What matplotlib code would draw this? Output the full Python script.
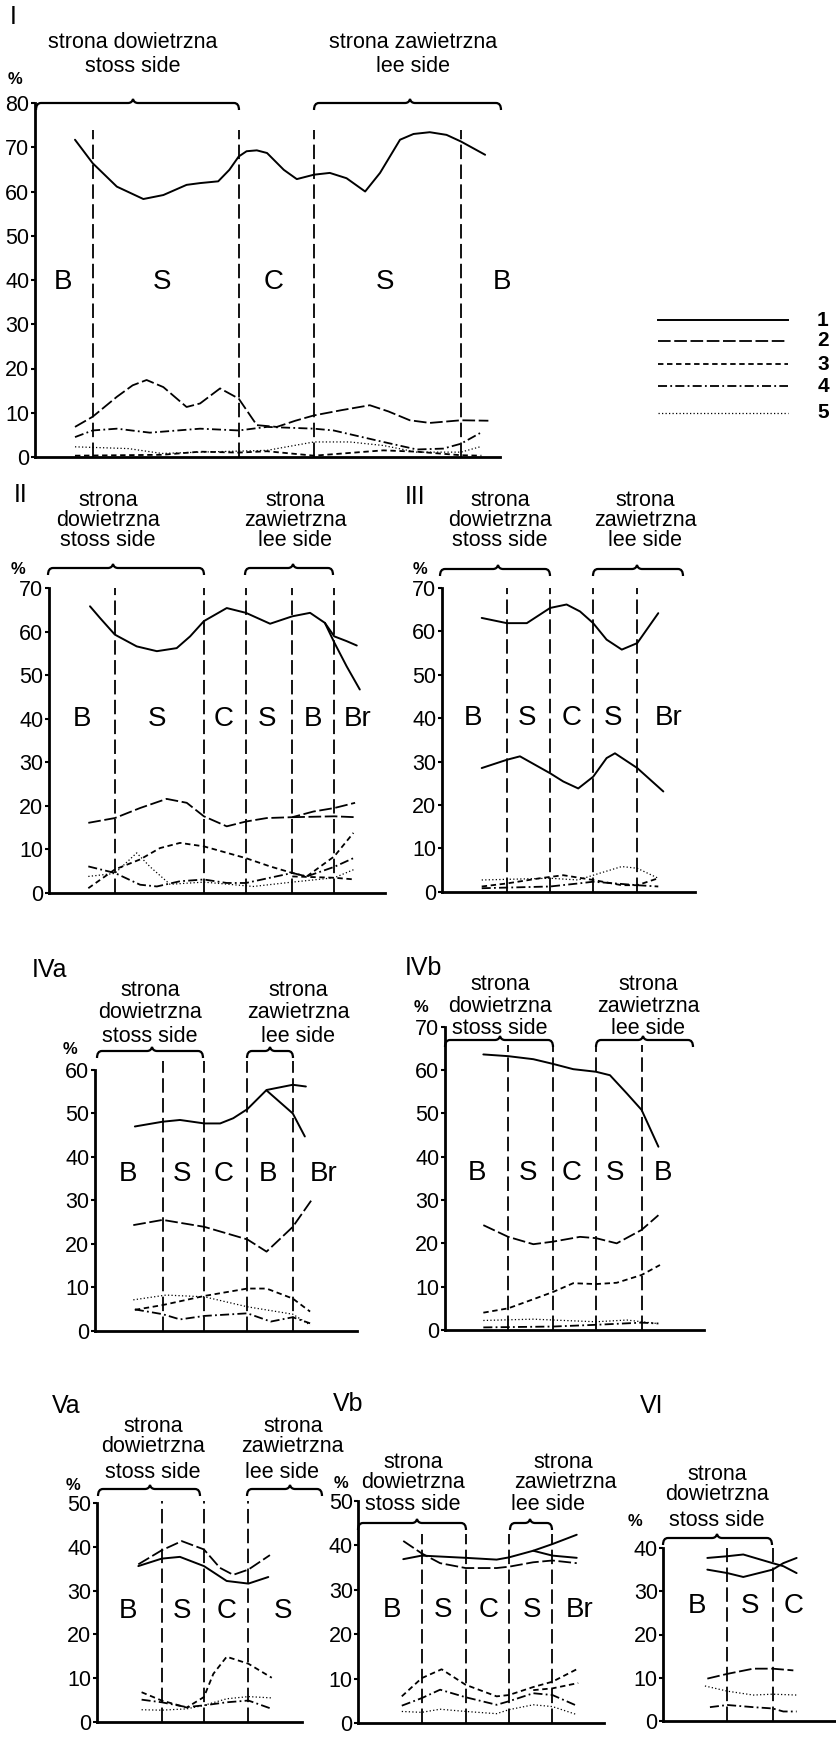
import matplotlib
matplotlib.use('Agg')
import matplotlib.pyplot as plt
from matplotlib import font_manager
from matplotlib.path import Path
from matplotlib.patches import PathPatch

W, H = 836, 1737

# ---- data (x = relative distance along the profile, 0-100; y = %) ----
# Panel I
p1_zones = [12.4, 43.8, 60.0, 91.6]
p1_labels = ['B', 'S', 'C', 'S', 'B']
p1_label_x = [6.0, 27.3, 51.3, 75.3, 100.4]
p1_s1_x = [8.6, 12.4, 17.6, 23.3, 27.6, 32.6, 35.5, 39.4, 41.8, 43.8, 45.5, 47.7, 49.9,
           53.5, 56.3, 60, 63.4, 67, 71, 74.2, 78.5, 81.4, 84.9, 88.5, 91.6, 96.8]
p1_s1_y = [71.7, 66.4, 61.1, 58.3, 59.2, 61.5, 61.9, 62.3, 64.9, 67.9, 69.1, 69.3, 68.7,
           64.9, 62.8, 63.8, 64.2, 63, 60, 64.2, 71.7, 73, 73.4, 72.8, 71.3, 68.3]
p1_s2_x = [8.6, 12.4, 17.6, 21, 24, 27.6, 32.6, 35.5, 39.8, 43.8, 47.7, 52, 56, 60, 66,
           72, 76, 80.6, 84.9, 91.6, 97.5]
p1_s2_y = [6.8, 9.1, 13.6, 16.2, 17.4, 15.8, 11.3, 12.1, 15.5, 13.2, 7.2, 6.8, 8.2, 9.4,
           10.6, 11.7, 10.3, 8.3, 7.7, 8.3, 8.2]
p1_s3_x = [8.6, 27.3, 35.5, 43.8, 49.9, 60, 74.9, 82.1, 91.6, 96]
p1_s3_y = [0.3, 0.5, 1.2, 1.0, 1.3, 0.3, 1.5, 1.2, 0.4, 0.3]
p1_s4_x = [8.6, 12.4, 17.6, 24.7, 35.5, 43.8, 49.9, 60, 64.2, 74.9, 82.1, 87.8, 91.6, 95.7]
p1_s4_y = [4.5, 6.0, 6.4, 5.5, 6.4, 6.0, 6.8, 6.4, 6.0, 3.4, 1.7, 1.9, 3.0, 5.4]
p1_s5_x = [8.6, 20.1, 27.3, 35.5, 49.9, 60, 67.7, 74.9, 82.1, 91.6, 95.7]
p1_s5_y = [2.3, 1.9, 0.8, 1.1, 1.5, 3.4, 3.4, 2.6, 1.1, 1.1, 2.3]

# Panel II
p2_zones = [19.6, 46.1, 58.6, 72.4, 84.9]
p2_labels = ['B', 'S', 'C', 'S', 'B', 'Br']
p2_label_x = [9.8, 32.1, 51.9, 64.9, 78.6, 92.0]
p2_s1_x = [12.2, 15.2, 19.6, 26.1, 32.1, 38, 42, 46.1, 52.9, 58.6, 65.8, 72.4, 77.7,
           82.1, 84.9, 88.6, 91.6]
p2_s1_y = [65.8, 63.1, 59.3, 56.6, 55.5, 56.2, 58.9, 62.4, 65.4, 64.3, 61.8, 63.5, 64.3,
           62, 58.9, 57.8, 56.8]
p2_s1b_x = [82.1, 84.9, 88.6, 92.5]
p2_s1b_y = [62, 57.5, 52, 46.7]
p2_s2_x = [11.7, 19.6, 27.1, 35, 41, 46.1, 52.9, 58.6, 64.8, 72.4, 78.7, 84.9, 91.1]
p2_s2_y = [16.1, 17.2, 19.5, 21.6, 20.7, 17.6, 15.3, 16.4, 17.2, 17.4, 18.7, 19.5, 20.7]
p2_s2b_x = [72.4, 84.9, 91.1]
p2_s2b_y = [17.4, 17.6, 17.4]
p2_s3_x = [11.7, 19.6, 27.1, 33.0, 39.0, 46.1, 58.6, 65.8, 72.4, 76.7, 84.9, 90.6]
p2_s3_y = [1.1, 5.4, 7.7, 10.3, 11.5, 10.7, 8.0, 6.1, 4.6, 3.8, 8.4, 13.8]
p2_s3b_x = [72.4, 84.9, 91.1]
p2_s3b_y = [3.8, 3.5, 3.1]
p2_s4_x = [11.7, 19.6, 27.1, 32.1, 39, 46.1, 52.9, 58.6, 72.4, 76.7, 84.9, 90.6]
p2_s4_y = [6.1, 4.6, 1.9, 1.5, 2.7, 3.1, 2.3, 2.3, 4.6, 3.8, 6.0, 8.0]
p2_s5_x = [11.7, 19.6, 26.1, 30.1, 36, 46.1, 60.8, 72.4, 84.9, 91.1]
p2_s5_y = [3.8, 4.5, 9.2, 6.0, 2.0, 2.5, 1.5, 2.5, 3.5, 5.5]

# Panel III
p3_zones = [25.7, 42.8, 59.8, 77.2]
p3_labels = ['B', 'S', 'C', 'S', 'Br']
p3_label_x = [12.4, 33.6, 51.3, 67.6, 89.4]
p3_s1_x = [15.8, 25.7, 33.6, 42.8, 49.3, 54.6, 59.8, 65.1, 71.1, 77.2, 85.5]
p3_s1_y = [63.1, 61.9, 61.9, 65.4, 66.2, 64.6, 61.9, 58.1, 55.8, 57.3, 64.2]
p3_s2_x = [15.8, 25.7, 30.9, 42.8, 48, 53.9, 59.8, 65.1, 68.4, 77.2, 87.5]
p3_s2_y = [28.5, 30.4, 31.2, 27.3, 25.4, 23.8, 26.5, 30.8, 31.9, 28.5, 23.1]
p3_s3_x = [15.8, 25.7, 38.8, 48, 59.8, 71.1, 77.2, 85.5]
p3_s3_y = [1.2, 1.9, 3.1, 3.8, 2.7, 1.5, 1.5, 3.1]
p3_s4_x = [15.8, 42.8, 53.9, 59.8, 77.2, 85.5]
p3_s4_y = [0.8, 1.2, 1.9, 2.3, 1.5, 1.2]
p3_s5_x = [15.8, 42.8, 53.9, 59.8, 71.1, 77.2, 85.5]
p3_s5_y = [2.7, 3.1, 2.7, 3.8, 5.8, 5.4, 3.1]

# Panel IVa
p4a_zones = [25.8, 41.7, 58.1, 75.4]
p4a_labels = ['B', 'S', 'C', 'B', 'Br']
p4a_label_x = [12.7, 33.0, 48.9, 66.0, 87.0]
p4a_s1_x = [15.2, 25.8, 32.4, 41.7, 47.7, 52.7, 58.1, 65.4, 75.4, 80.4]
p4a_s1_y = [47, 48.1, 48.5, 47.7, 47.7, 48.9, 51, 55.4, 56.6, 56.2]
p4a_s1b_x = [65.4, 75.4, 80]
p4a_s1b_y = [55.3, 50, 44.7]
p4a_s2_x = [14.6, 25.8, 41.7, 58.1, 65.4, 75.4, 82.6]
p4a_s2_y = [24.3, 25.5, 23.9, 21.0, 18.2, 23.9, 30.1]
p4a_s3_x = [15.2, 25.8, 41.7, 58.1, 65.4, 75.4, 82]
p4a_s3_y = [4.8, 5.9, 8.0, 9.7, 9.7, 7.4, 4.4]
p4a_s4_x = [15.2, 25.8, 32.4, 41.7, 58.1, 67, 75.4, 82]
p4a_s4_y = [4.9, 3.8, 2.6, 3.4, 4.0, 2.1, 3.1, 1.7]
p4a_s5_x = [14.6, 27.1, 41.7, 58.1, 75.4, 82]
p4a_s5_y = [7.1, 8.2, 7.8, 5.5, 3.8, 1.3]

# Panel IVb
p4b_zones = [24.4, 41.8, 58.3, 75.9]
p4b_labels = ['B', 'S', 'C', 'S', 'B']
p4b_label_x = [12.2, 32.0, 48.9, 65.6, 84.3]
p4b_s1_x = [14.8, 24.4, 34.1, 41.8, 49.5, 58.3, 63.7, 70.2, 75.9, 82.4]
p4b_s1_y = [63.6, 63.2, 62.5, 61.4, 60.2, 59.6, 58.8, 54.6, 50.8, 42.3]
p4b_s2_x = [14.8, 24.4, 34.1, 41.8, 52.1, 58.3, 66.3, 75.9, 82.4]
p4b_s2_y = [24.2, 21.5, 19.8, 20.4, 21.5, 21.2, 20.0, 23.1, 26.5]
p4b_s3_x = [14.8, 24.4, 34.1, 41.8, 49.5, 58.3, 66.3, 75.9, 83]
p4b_s3_y = [4.0, 5.0, 7.1, 8.8, 10.8, 10.6, 10.9, 12.7, 15.0]
p4b_s4_x = [14.8, 41.8, 58.3, 75.9, 82.4]
p4b_s4_y = [0.6, 0.8, 1.2, 1.7, 1.5]
p4b_s5_x = [14.8, 34.1, 41.8, 58.3, 70.2, 81.9]
p4b_s5_y = [2.2, 2.5, 2.3, 1.9, 2.3, 1.5]

# Panel Va
p5a_zones = [31.7, 52.3, 74.0]
p5a_labels = ['B', 'S', 'C', 'S']
p5a_label_x = [15.4, 41.5, 63.4, 91.0]
p5a_s1_x = [20.3, 31.7, 40.6, 52.3, 63.4, 74, 83.7]
p5a_s1_y = [35.6, 37.3, 37.7, 35.6, 32.2, 31.6, 33.1]
p5a_s2_x = [20.3, 31.7, 41.5, 52.3, 60.1, 66.6, 74, 84.5]
p5a_s2_y = [36.0, 39.2, 41.3, 39.4, 35.2, 33.6, 34.8, 38.1]
p5a_s3_x = [21.9, 31.7, 43.9, 52.3, 56.9, 63.4, 74, 85.4]
p5a_s3_y = [6.8, 4.9, 3.3, 5.7, 11.0, 14.9, 13.3, 10.1]
p5a_s4_x = [21.9, 31.7, 43.9, 52.3, 63.4, 74, 85.4]
p5a_s4_y = [5.1, 4.5, 3.4, 3.8, 4.5, 4.9, 3.0]
p5a_s5_x = [21.9, 31.7, 43.9, 52.3, 63.4, 74, 85.4]
p5a_s5_y = [2.8, 2.7, 3.0, 3.8, 5.3, 5.8, 5.5]

# Panel Vb
p5b_zones = [25.8, 43.7, 61.3, 79.0]
p5b_labels = ['B', 'S', 'C', 'S', 'Br']
p5b_label_x = [13.6, 34.6, 52.9, 70.6, 90.2]
p5b_s1_x = [18.3, 25.8, 43.7, 56.3, 61.3, 71.2, 79, 88.9]
p5b_s1_y = [36.9, 37.7, 37.2, 36.8, 37.3, 38.8, 40.3, 42.4]
p5b_s1b_x = [71.2, 79, 88.9]
p5b_s1b_y = [38.8, 37.7, 37.2]
p5b_s2_x = [18.3, 25.8, 33.3, 43.7, 56.3, 61.3, 71.2, 79, 88.9]
p5b_s2_y = [41.0, 38.2, 36.0, 34.9, 34.9, 35.2, 36.2, 36.6, 36.0]
p5b_s3_x = [17.7, 25.8, 33.9, 43.7, 56.3, 61.3, 71.2, 79, 88.9]
p5b_s3_y = [6.0, 10.1, 12.1, 8.6, 6.0, 6.3, 8.1, 9.3, 12.1]
p5b_s3b_x = [71.2, 79, 89.5]
p5b_s3b_y = [7.4, 7.8, 9.0]
p5b_s4_x = [17.7, 25.8, 33.3, 43.7, 56.3, 61.3, 71.2, 79, 88.9]
p5b_s4_y = [3.9, 5.6, 7.5, 5.8, 4.1, 4.9, 6.7, 6.3, 3.9]
p5b_s5_x = [17.7, 25.8, 33.3, 43.7, 56.3, 61.3, 71.2, 79, 88.9]
p5b_s5_y = [2.6, 2.4, 3.1, 2.6, 2.1, 3.0, 4.1, 3.7, 1.9]

# Panel VI
p6_zones = [37.1, 63.3]
p6_labels = ['B', 'S', 'C']
p6_label_x = [19.3, 50.2, 75.3]
p6_s1_x = [25.5, 37.1, 46.3, 63.3, 69.5, 77.2]
p6_s1_y = [37.7, 38.1, 38.5, 36.5, 35.8, 34.2]
p6_s1b_x = [25.5, 37.1, 46.3, 63.3, 69.5, 77.2]
p6_s1b_y = [35.0, 34.2, 33.3, 35.0, 36.5, 37.7]
p6_s2_x = [25.5, 37.1, 52.1, 63.3, 75.3]
p6_s2_y = [9.8, 10.9, 12.1, 12.1, 11.7]
p6_s4_x = [27, 37.1, 52.1, 63.3, 69.5, 77.2]
p6_s4_y = [3.2, 3.7, 3.2, 2.9, 2.2, 2.2]
p6_s5_x = [24.1, 37.1, 52.1, 63.3, 77.2]
p6_s5_y = [8.1, 6.9, 6.0, 6.2, 6.0]

legend_ids = ['1', '2', '3', '4', '5']

# ---- styles ----
names = {f.name for f in font_manager.fontManager.ttflist}
FONT = 'Liberation Sans' if 'Liberation Sans' in names else 'DejaVu Sans'
plt.rcParams['font.family'] = [FONT, 'DejaVu Sans']

STYLES = {
    1: dict(linestyle='-', linewidth=1.4),
    2: dict(linestyle=(0, (7.0, 2.0)), linewidth=1.3),
    3: dict(linestyle=(0, (3.0, 2.0)), linewidth=1.3),
    4: dict(linestyle=(0, (5.0, 1.8, 1.0, 1.8)), linewidth=1.3),
    5: dict(linestyle=(0, (1.0, 1.8)), linewidth=0.9),
}
ZONE_LS = (0, (8, 3))

# rect = (left px, top px, right px, bottom px) of the plotting box
PANELS = [
    dict(rect=(35, 103, 500, 457), ymax=80, zones=p1_zones, ztop=74,
         labels=p1_labels, lx=p1_label_x, ly=39.6,
         series=[(p1_s1_x, p1_s1_y, 1), (p1_s2_x, p1_s2_y, 2), (p1_s3_x, p1_s3_y, 3),
                 (p1_s4_x, p1_s4_y, 4), (p1_s5_x, p1_s5_y, 5)]),
    dict(rect=(49, 588, 385, 893), ymax=70, zones=p2_zones, ztop=70,
         labels=p2_labels, lx=p2_label_x, ly=40,
         series=[(p2_s1_x, p2_s1_y, 1), (p2_s1b_x, p2_s1b_y, 1), (p2_s2_x, p2_s2_y, 2),
                 (p2_s2b_x, p2_s2b_y, 2), (p2_s3_x, p2_s3_y, 3), (p2_s3b_x, p2_s3b_y, 3),
                 (p2_s4_x, p2_s4_y, 4), (p2_s5_x, p2_s5_y, 5)]),
    dict(rect=(441.7, 588, 695, 891.7), ymax=70, zones=p3_zones, ztop=70,
         labels=p3_labels, lx=p3_label_x, ly=40,
         series=[(p3_s1_x, p3_s1_y, 1), (p3_s2_x, p3_s2_y, 1), (p3_s3_x, p3_s3_y, 3),
                 (p3_s4_x, p3_s4_y, 4), (p3_s5_x, p3_s5_y, 5)]),
    dict(rect=(95, 1070, 357.3, 1330.7), ymax=60, zones=p4a_zones, ztop=62,
         labels=p4a_labels, lx=p4a_label_x, ly=36,
         series=[(p4a_s1_x, p4a_s1_y, 1), (p4a_s1b_x, p4a_s1b_y, 1), (p4a_s2_x, p4a_s2_y, 2),
                 (p4a_s3_x, p4a_s3_y, 3), (p4a_s4_x, p4a_s4_y, 4), (p4a_s5_x, p4a_s5_y, 5)]),
    dict(rect=(445, 1026.7, 704, 1330), ymax=70, zones=p4b_zones, ztop=65.8,
         labels=p4b_labels, lx=p4b_label_x, ly=36.2,
         series=[(p4b_s1_x, p4b_s1_y, 1), (p4b_s2_x, p4b_s2_y, 2), (p4b_s3_x, p4b_s3_y, 3),
                 (p4b_s4_x, p4b_s4_y, 4), (p4b_s5_x, p4b_s5_y, 5)]),
    dict(rect=(96.7, 1503, 301.7, 1722), ymax=50, zones=p5a_zones, ztop=50.4,
         labels=p5a_labels, lx=p5a_label_x, ly=25.4,
         series=[(p5a_s1_x, p5a_s1_y, 1), (p5a_s2_x, p5a_s2_y, 2), (p5a_s3_x, p5a_s3_y, 3),
                 (p5a_s4_x, p5a_s4_y, 4), (p5a_s5_x, p5a_s5_y, 5)]),
    dict(rect=(358.3, 1501, 604, 1723), ymax=50, zones=p5b_zones, ztop=42.5,
         labels=p5b_labels, lx=p5b_label_x, ly=25.4,
         series=[(p5b_s1_x, p5b_s1_y, 1), (p5b_s1b_x, p5b_s1b_y, 1), (p5b_s2_x, p5b_s2_y, 2),
                 (p5b_s3_x, p5b_s3_y, 3), (p5b_s3b_x, p5b_s3b_y, 3), (p5b_s4_x, p5b_s4_y, 4),
                 (p5b_s5_x, p5b_s5_y, 5)]),
    dict(rect=(663.3, 1548, 836, 1721), ymax=40, zones=p6_zones, ztop=40,
         labels=p6_labels, lx=p6_label_x, ly=26.5,
         series=[(p6_s1_x, p6_s1_y, 1), (p6_s1b_x, p6_s1b_y, 1), (p6_s2_x, p6_s2_y, 2),
                 (p6_s4_x, p6_s4_y, 4), (p6_s5_x, p6_s5_y, 5)]),
]

# headers: (x px, y px, text, size)
HS = 15.5
HEADERS = [
    (133, 43, 'strona dowietrzna', 15.5), (133, 67, 'stoss side', 15.5),
    (413, 43, 'strona zawietrzna', 15.5), (413, 67, 'lee side', 15.5),
    (108, 501, 'strona', HS), (108, 520, 'dowietrzna', HS), (108, 540, 'stoss side', HS),
    (295, 501, 'strona', HS), (295, 520, 'zawietrzna', HS), (295, 540, 'lee side', HS),
    (500, 501, 'strona', HS), (500, 520, 'dowietrzna', HS), (500, 540, 'stoss side', HS),
    (645, 501, 'strona', HS), (645, 520, 'zawietrzna', HS), (645, 540, 'lee side', HS),
    (150, 991, 'strona', HS), (150, 1012, 'dowietrzna', HS), (150, 1036, 'stoss side', HS),
    (298, 991, 'strona', HS), (298, 1012, 'zawietrzna', HS), (298, 1036, 'lee side', HS),
    (500, 984, 'strona', HS), (500, 1006, 'dowietrzna', HS), (500, 1028, 'stoss side', HS),
    (648, 984, 'strona', HS), (648, 1006, 'zawietrzna', HS), (648, 1028, 'lee side', HS),
    (153, 1426, 'strona', HS), (153, 1446, 'dowietrzna', HS), (153, 1472, 'stoss side', HS),
    (293, 1426, 'strona', HS), (292, 1446, 'zawietrzna', HS), (282, 1472, 'lee side', HS),
    (413, 1463, 'strona', HS), (413, 1482, 'dowietrzna', HS), (413, 1505, 'stoss side', HS),
    (563, 1463, 'strona', HS), (565, 1482, 'zawietrzna', HS), (548, 1505, 'lee side', HS),
    (717, 1475, 'strona', HS), (717, 1494, 'dowietrzna', HS), (717, 1520, 'stoss side', HS),
]
NUMERALS = [(10, 17, 'I'), (14, 495, 'II'), (405, 497, 'III'), (32, 970, 'IVa'),
            (405, 968, 'IVb'), (52, 1406, 'Va'), (333, 1404, 'Vb'), (640, 1406, 'VI')]
PERCENT = [(15, 80), (18, 570), (420, 570), (70, 1050), (421, 1007),
           (73, 1485), (341, 1483), (635, 1522)]
# braces: (left px, right px, tip px, y px)
BRACES = [(36, 239, 133, 103), (314, 501, 410, 103),
          (48, 204, 113, 568), (245, 333, 293, 568),
          (440, 550, 498, 569), (593, 683, 637, 569),
          (97, 203, 152, 1051), (247, 293, 270, 1051),
          (445, 553, 500, 1040), (596, 693, 643, 1040),
          (98, 200, 150, 1489), (247, 322, 290, 1489),
          (358, 466, 417, 1523), (510, 552, 530, 1523),
          (663, 772, 717, 1538)]

fig = plt.figure(figsize=(W / 100, H / 100), dpi=100)
fig.patch.set_facecolor('white')

for P in PANELS:
    x0, yt, x1, yb = P['rect']
    ax = fig.add_axes([x0 / W, 1 - yb / H, (x1 - x0) / W, (yb - yt) / H])
    ax.patch.set_alpha(0)
    ax.set_xlim(0, 100)
    ax.set_ylim(0, P['ymax'])
    for side in ['top', 'right']:
        ax.spines[side].set_visible(False)
    for side in ['left', 'bottom']:
        ax.spines[side].set_linewidth(2.0)
    ax.set_xticks([])
    ax.set_yticks(range(0, P['ymax'] + 1, 10))
    ax.tick_params(axis='y', direction='out', length=3, width=1.5, pad=1, labelsize=15.5)
    for z in P['zones']:
        ax.plot([z, z], [0, P['ztop']], color='k', linestyle=ZONE_LS, linewidth=1.3,
                clip_on=False)
    for xs, ys, k in P['series']:
        ax.plot(xs, ys, color='k', clip_on=False, solid_capstyle='round',
                solid_joinstyle='round', **STYLES[k])
    for lab, lx in zip(P['labels'], P['lx']):
        ax.text(lx, P['ly'], lab, fontsize=20, ha='center', va='center')

# overlay in pixel coordinates for headers, braces, legend
ov = fig.add_axes([0, 0, 1, 1])
ov.set_xlim(0, W)
ov.set_ylim(H, 0)
ov.axis('off')
ov.patch.set_alpha(0)

for x, y, s, fs in HEADERS:
    ov.text(x, y, s, fontsize=fs, ha='center', va='center')
for x, y, s in NUMERALS:
    ov.text(x, y, s, fontsize=18, ha='left', va='center')
for x, y in PERCENT:
    ov.text(x, y, '%', fontsize=12, ha='center', va='center', fontweight='bold')


def brace(xl, xr, xt, y, h=7, r=5):
    verts = [(xl, y + h), (xl, y), (xl + r, y), (xt - 5, y), (xt - 1, y), (xt, y - 4),
             (xt + 1, y), (xt + 5, y), (xr - r, y), (xr, y), (xr, y + h)]
    codes = [Path.MOVETO, Path.CURVE3, Path.CURVE3, Path.LINETO, Path.CURVE3, Path.CURVE3,
             Path.CURVE3, Path.CURVE3, Path.LINETO, Path.CURVE3, Path.CURVE3]
    ov.add_patch(PathPatch(Path(verts, codes), facecolor='none', edgecolor='k', lw=1.6))


for b in BRACES:
    brace(*b)

# legend
leg_y = [320, 341, 364, 386, 413]
for i, lid in enumerate(legend_ids):
    ov.plot([658, 788], [leg_y[i], leg_y[i]], color='k', **STYLES[i + 1])
    ov.text(823, leg_y[i], lid, fontsize=15, fontweight='bold', ha='center', va='center')

fig.savefig('out.png', dpi=100, facecolor='white')
